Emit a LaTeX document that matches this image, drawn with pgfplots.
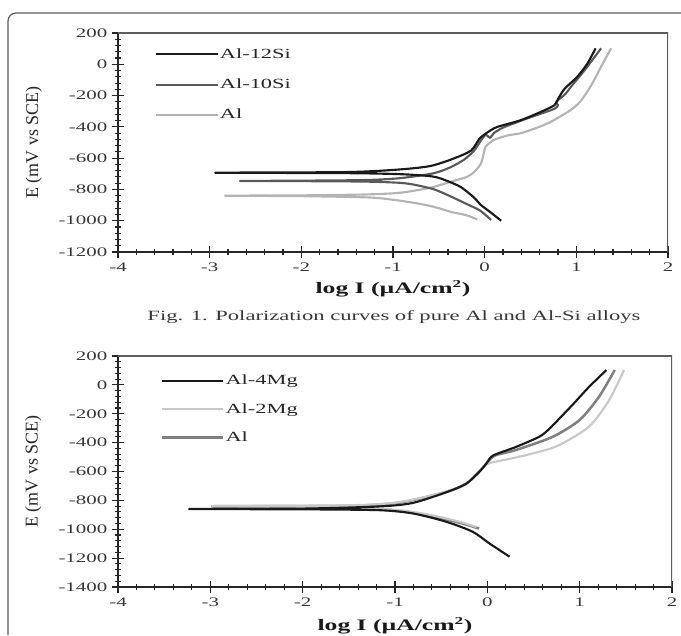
\documentclass[border=0pt]{standalone}
\usepackage{fontspec}
\setmainfont{Liberation Serif}
\newfontfamily\wide[FakeStretch=1.6]{Liberation Serif}
\usepackage{graphicx}
\usepackage{pgfplots}
\pgfplotsset{compat=1.18}
\definecolor{cBlack}{HTML}{1A1A1A}
\definecolor{cDark}{HTML}{5A5A5A}
\definecolor{cLight}{HTML}{B4B4B4}
\definecolor{cMid}{HTML}{808080}
\definecolor{cPale}{HTML}{C8C8C8}
\definecolor{cFrame}{HTML}{5E5E5E}
\pgfplotsset{
  polstyle/.style={
    scale only axis,
    axis lines=left,
    axis line style={-, line width=0.8pt, color=black!85},
    xmin=-4, xmax=2, xtick={-4,-3,-2,-1,0,1,2},
    minor x tick num=4, minor y tick num=4,
    tick align=center, major tick length=9pt, minor tick length=5pt,
    every tick/.style={line width=0.8pt, black!85},
    /pgf/number format/assume math mode=true,
    /pgf/number format/1000 sep={},
    ticklabel style={font=\wide\fontsize{9.8}{11}\selectfont, text=black!78},
    xlabel={log I (µA/cm\textsuperscript{2})},
    ylabel={E (mV vs SCE)},
    xlabel style={at={(axis description cs:0.5,-0.169)}, anchor=center,
      font=\wide\bfseries\fontsize{12}{14}\selectfont, text=black!90},
    ylabel style={at={(axis description cs:-0.153,0.5)}, anchor=center,
      font=\fontsize{13.5}{15}\selectfont, text=black!85},
    legend style={draw=none, fill=none, anchor=north west, inner sep=0pt,
      font=\wide\fontsize{10.5}{12}\selectfont, text=black!85,
      nodes={inner sep=1pt}, cells={anchor=west},
      /tikz/every even column/.style={column sep=0pt}},
    legend image code/.code={\draw[#1, sharp plot] (0pt,0pt) -- (46pt,0pt);},
    reverse legend,
    every axis plot/.append style={line width=1.6pt, line join=round, smooth, tension=0.45},
  }
}
\begin{document}
\begin{tikzpicture}
\useasboundingbox (0pt,0pt) rectangle (510.75pt,476.25pt);
\draw[cFrame, line width=0.9pt, rounded corners=6pt] (6pt,0pt) -- (6pt,466.5pt) -- (510.75pt,466.5pt);

% ---------- top: Al-Si ----------
\begin{axis}[polstyle,
  at={(88.5pt,287.25pt)}, anchor=south west,
  width=412.5pt, height=164.25pt,
  ymin=-1200, ymax=200, ytick={-1200,-1000,...,200},
  legend style={at={(0.067,0.937)}, /tikz/row sep=12pt},
]
\addplot[cLight] coordinates {
(-0.08,-992) (-0.2,-965) (-0.37,-943) (-0.55,-912) (-0.74,-889) (-1.0,-866) (-1.28,-851) (-2.0,-843) (-2.83,-840)
(-2.0,-838) (-1.28,-832) (-0.92,-821) (-0.6,-790) (-0.37,-751) (-0.19,-719) (-0.1,-680) (-0.04,-633) (-0.01,-570) (0.01,-527)
(0.1,-484) (0.25,-455) (0.39,-441) (0.55,-410) (0.69,-377) (0.82,-335) (0.94,-292) (1.04,-240) (1.12,-175) (1.2,-95) (1.27,-15) (1.38,102)};
\addlegendentry{Al}
\addplot[cDark] coordinates {
(0.07,-995) (-0.05,-935) (-0.19,-895) (-0.37,-845) (-0.55,-800) (-0.75,-772) (-0.92,-758) (-1.3,-750) (-2.0,-747) (-2.67,-746)
(-2.0,-744) (-1.3,-740) (-0.92,-728) (-0.56,-697) (-0.38,-660) (-0.23,-612) (-0.12,-555) (-0.05,-495) (0.01,-452) (0.06,-470)
(0.1,-440) (0.2,-405) (0.39,-362) (0.6,-318) (0.76,-285) (0.8,-262) (0.78,-240) (0.88,-190) (0.94,-145) (1.09,-38) (1.27,102)};
\addlegendentry{Al-10Si}
\addplot[cBlack] coordinates {
(0.18,-1000) (0.05,-940) (-0.04,-900) (-0.12,-850) (-0.26,-785) (-0.4,-748) (-0.56,-718) (-0.9,-703) (-1.5,-696) (-2.94,-693)
(-1.5,-689) (-0.92,-672) (-0.59,-650) (-0.34,-603) (-0.15,-552) (-0.06,-478) (-0.01,-452) (0.05,-428) (0.14,-400)
(0.39,-358) (0.61,-305) (0.76,-262) (0.8,-222) (0.87,-158) (1.01,-80) (1.12,4) (1.21,102)};
\addlegendentry{Al-12Si}
\draw[cFrame, line width=1.1pt] (rel axis cs:0,1) -- (rel axis cs:1,1) -- (rel axis cs:1,0);
\end{axis}

\node[font=\wide\fontsize{10.6}{12}\selectfont, text=black!78] at (295.5pt,238.5pt)
  {Fig. 1. Polarization curves of pure Al and Al-Si alloys};

% ---------- bottom: Al-Mg ----------
\begin{axis}[polstyle,
  at={(88.5pt,36pt)}, anchor=south west,
  width=415.5pt, height=173.25pt,
  ymin=-1400, ymax=200, ytick={-1400,-1200,...,200},
  legend style={at={(0.076,0.925)}, /tikz/row sep=10.5pt},
]
\addplot[cMid, line width=1.9pt] coordinates {
(-0.09,-995) (-0.3,-955) (-0.6,-910) (-0.95,-875) (-1.5,-852) (-2.98,-842)
(-1.5,-838) (-0.95,-815) (-0.45,-742) (-0.23,-685) (-0.09,-600) (-0.01,-545) (0.08,-490)
(0.31,-451) (0.71,-359) (1.0,-243) (1.21,-82) (1.38,103)};
\addlegendentry{Al}
\addplot[cPale] coordinates {
(-0.12,-985) (-0.3,-948) (-0.6,-903) (-0.95,-868) (-1.5,-848) (-2.98,-838)
(-1.5,-834) (-0.95,-812) (-0.45,-740) (-0.23,-683) (-0.09,-600) (0.0,-548) (0.09,-532)
(0.35,-497) (0.74,-428) (1.1,-290) (1.32,-105) (1.48,103)};
\addlegendentry{Al-2Mg}
\addplot[cBlack] coordinates {
(0.24,-1190) (0.02,-1097) (-0.16,-1017) (-0.45,-947) (-0.81,-890) (-1.17,-868) (-2.0,-862) (-3.23,-860)
(-2.0,-857) (-1.17,-842) (-0.81,-818) (-0.45,-745) (-0.23,-685) (-0.09,-605) (-0.01,-545) (0.06,-490)
(0.31,-430) (0.56,-360) (0.67,-305) (0.92,-140) (1.1,-15) (1.29,103)};
\addlegendentry{Al-4Mg}
\draw[cFrame, line width=1.1pt] (rel axis cs:0,1) -- (rel axis cs:1,1) -- (rel axis cs:1,0);
\end{axis}
\end{tikzpicture}
\end{document}
